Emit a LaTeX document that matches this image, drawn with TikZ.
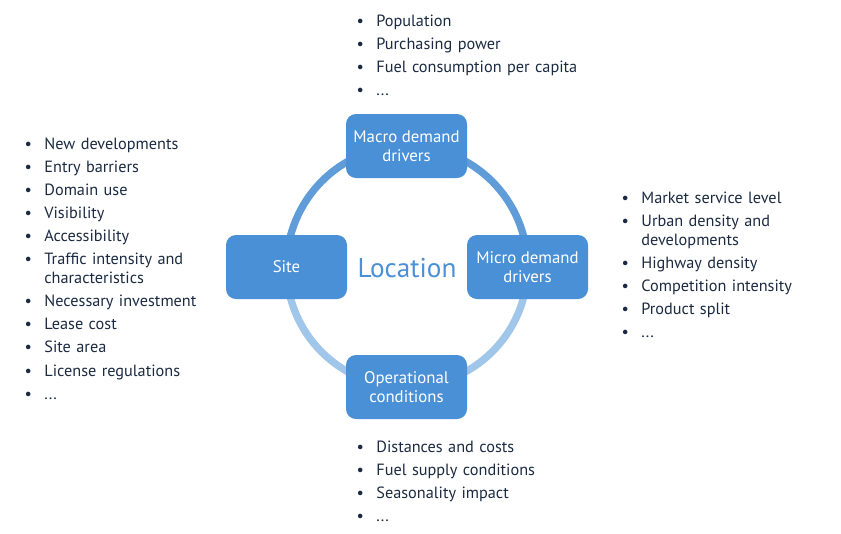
\documentclass[tikz,border=0pt]{standalone}
\usepackage{fontspec}
\setmainfont{PT Sans}
\usepackage{xcolor}
\usepackage{tikz}
\usetikzlibrary{backgrounds}
\definecolor{boxblue}{HTML}{4A90D6}
\definecolor{ringdark}{HTML}{5F9CD8}
\definecolor{ringlight}{HTML}{A0C6E9}
\definecolor{listink}{HTML}{1B2A41}
\newenvironment{driverlist}{\begin{list}{\textbullet}{%
  \setlength{\leftmargin}{15pt}\setlength{\labelsep}{9.4pt}%
  \setlength{\labelwidth}{5.6pt}\setlength{\itemsep}{3.05pt}%
  \setlength{\parsep}{0pt}\setlength{\topsep}{0pt}\setlength{\partopsep}{0pt}%
  \setlength{\baselineskip}{14.25pt}}}{\end{list}}
\begin{document}
\begin{tikzpicture}[x=0.75pt, y=-0.75pt, semithick]
\tikzstyle{driver}=[shape=rectangle, rounded corners=7.5pt, fill=boxblue, text=white,
                    minimum width=90.75pt, minimum height=48pt, inner sep=0pt,
                    align=center, font=\fontsize{12.6}{14.25}\selectfont]
\tikzstyle{bullets}=[anchor=north west, inner sep=0pt, text=listink, text width=190pt,
                    font=\fontsize{12.2}{14.25}\selectfont]
\tikzstyle{ring}=[line width=5.5pt]
  \useasboundingbox (0,0) rectangle (841,533);
  \node[driver] (macro) at (406.5,146) {Macro demand\\drivers};
  \node[driver] (micro) at (527.5,267) {Micro demand\\drivers};
  \node[driver] (site) at (286.5,267) {Site};
  \node[driver] (oper) at (406.5,387) {Operational\\conditions};
  \node[text=boxblue, font=\fontsize{20.4}{24}\selectfont] (location) at (407,268) {Location};
  \begin{scope}[on background layer]
    \draw[ring, ringdark] (macro.center) to[out=0, in=90] (micro.center);
    \draw[ring, ringdark] (macro.center) to[out=180, in=90] (site.center);
    \draw[ring, ringlight] (oper.center) to[out=0, in=-90] (micro.center);
    \draw[ring, ringlight] (oper.center) to[out=180, in=-90] (site.center);
  \end{scope}
  \node[bullets] (macrolist) at (356,7) {\begin{driverlist}
    \item Population
    \item Purchasing power
    \item Fuel consumption per capita
    \item ...
  \end{driverlist}};
  \node[bullets] (sitelist) at (24,130) {\begin{driverlist}
    \item New developments
    \item Entry barriers
    \item Domain use
    \item Visibility
    \item Accessibility
    \item Traffic intensity and\\characteristics
    \item Necessary investment
    \item Lease cost
    \item Site area
    \item License regulations
    \item ...
  \end{driverlist}};
  \node[bullets] (microlist) at (621,184) {\begin{driverlist}
    \item Market service level
    \item Urban density and\\developments
    \item Highway density
    \item Competition intensity
    \item Product split
    \item ...
  \end{driverlist}};
  \node[bullets] (operlist) at (356,433) {\begin{driverlist}
    \item Distances and costs
    \item Fuel supply conditions
    \item Seasonality impact
    \item ...
  \end{driverlist}};
\end{tikzpicture}
\end{document}
